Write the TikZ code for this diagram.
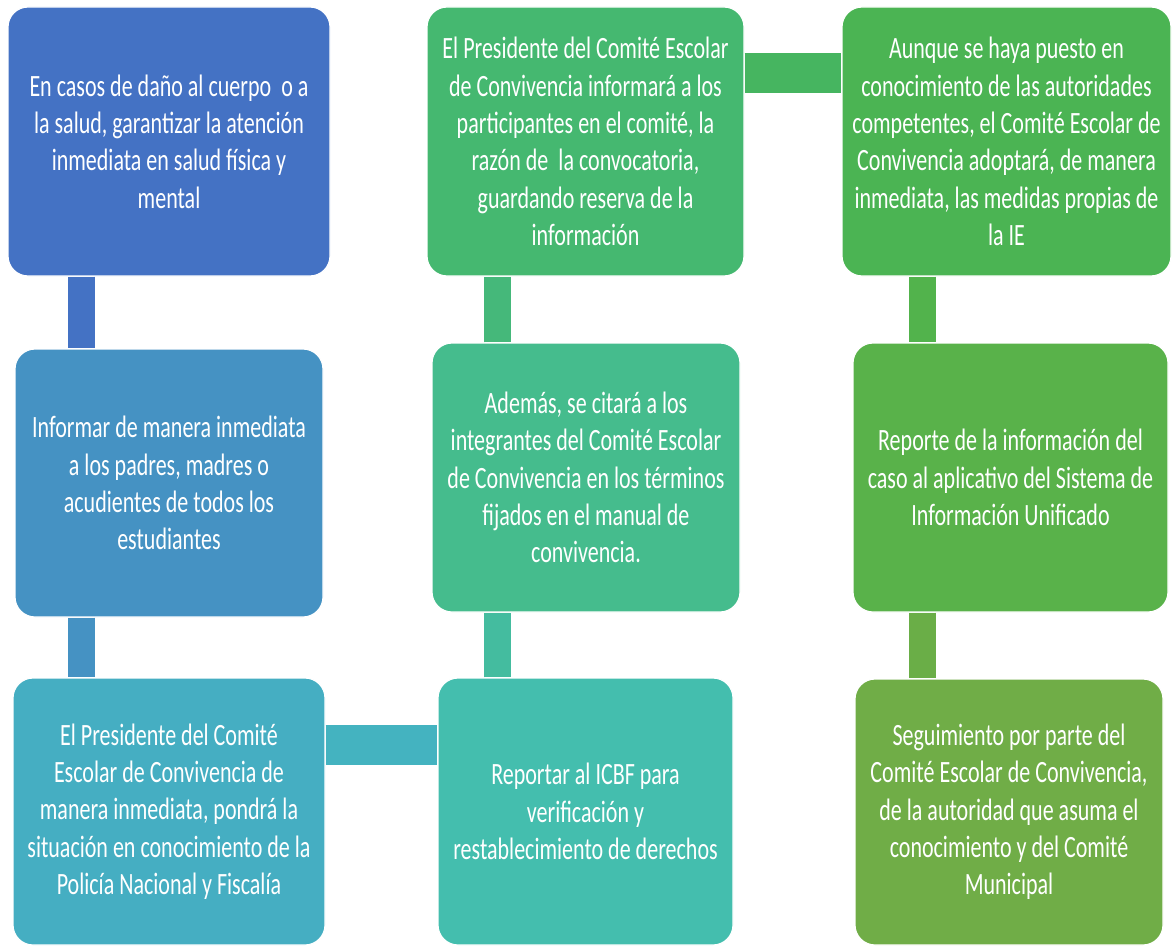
\documentclass[tikz,border=0pt]{standalone}
\usepackage{fontspec}
\setmainfont{Carlito}[FakeStretch=0.71]
\usepackage{tikz}
\usetikzlibrary{positioning}
\definecolor{cajaAa}{HTML}{4472C4}
\definecolor{cajaAb}{HTML}{4592C3}
\definecolor{cajaAc}{HTML}{45AEC2}
\definecolor{cajaBa}{HTML}{45B870}
\definecolor{cajaBb}{HTML}{45BC8D}
\definecolor{cajaBc}{HTML}{44BEAE}
\definecolor{cajaCa}{HTML}{4BB453}
\definecolor{cajaCb}{HTML}{59B24A}
\definecolor{cajaCc}{HTML}{70AD47}
\definecolor{lazoAc}{HTML}{44B3C0}
\definecolor{lazoBc}{HTML}{44BC9F}
\definecolor{lazoBb}{HTML}{45B87A}
\definecolor{lazoBa}{HTML}{46B560}
\definecolor{lazoCa}{HTML}{52B34C}
\definecolor{lazoCb}{HTML}{6AAE47}
\tikzset{
  caja/.style={rectangle, rounded corners=10pt, draw=white, line width=0.6pt,
               text=white, align=center, inner sep=0pt,
               font=\fontsize{15.5}{18.65}\selectfont},
  enlace/.style={draw, line width=13.5pt},
  enlaceh/.style={draw, line width=20pt}
}
\begin{document}
\begin{tikzpicture}[x=0.5pt,y=-0.5pt]
    \useasboundingbox (0,0) rectangle (1172,947);
    % Primera columna
    \node (A1) at (169,141.5) [caja, fill=cajaAa, minimum width=161pt, minimum height=134.5pt]
      {En casos de daño al cuerpo\, o a\\la salud, garantizar la atención\\inmediata en salud física y\\mental};
    \node (A2) at (169,483) [caja, fill=cajaAb, minimum width=154pt, minimum height=134pt]
      {Informar de manera inmediata\\a los padres, madres o\\acudientes de todos los\\estudiantes};
    \node (A3) at (169,811.5) [caja, fill=cajaAc, minimum width=156pt, minimum height=133.5pt]
      {El Presidente del Comité\\Escolar de Convivencia de\\manera inmediata, pondrá la\\situación en conocimiento de la\\Policía Nacional y Fiscalía};
    % Segunda columna
    \node (B1) at (585.5,141.5) [caja, fill=cajaBa, minimum width=158.5pt, minimum height=134.5pt]
      {El Presidente del Comité Escolar\\de Convivencia informará a los\\participantes en el comité, la\\razón de\, la convocatoria,\\guardando reserva de la\\información};
    \node (B2) at (586,477.5) [caja, fill=cajaBb, minimum width=154pt, minimum height=134.5pt]
      {Además, se citará a los\\integrantes del Comité Escolar\\de Convivencia en los términos\\fijados en el manual de\\convivencia.};
    \node (B3) at (585.5,811.5) [caja, fill=cajaBc, minimum width=147.5pt, minimum height=133.5pt]
      {Reportar al ICBF para\\verificación y\\restablecimiento de derechos};
    % Tercera columna
    \node (C1) at (1006.5,141.5) [caja, fill=cajaCa, minimum width=164.5pt, minimum height=134.5pt]
      {Aunque se haya puesto en\\conocimiento de las autoridades\\competentes, el Comité Escolar de\\Convivencia adoptará, de manera\\inmediata, las medidas propias de\\la IE};
    \node (C2) at (1010.5,477.5) [caja, fill=cajaCb, minimum width=157.5pt, minimum height=134.5pt]
      {Reporte de la información del\\caso al aplicativo del Sistema de\\Información Unificado};
    \node (C3) at (1009,812) [caja, fill=cajaCc, minimum width=154pt, minimum height=133pt]
      {Seguimiento por parte del\\Comité Escolar de Convivencia,\\de la autoridad que asuma el\\conocimiento y del Comité\\Municipal};
    % Enlaces
    \coordinate (xa) at (81.5,0);
    \coordinate (xb) at (497.5,0);
    \coordinate (xc) at (922,0);
    \coordinate (yinf) at (0,745);
    \coordinate (ysup) at (0,73);
    \draw [enlace, cajaAa] (A1.south -| xa) -- (A2.north -| xa);
    \draw [enlace, cajaAb] (A2.south -| xa) -- (A3.north -| xa);
    \draw [enlaceh, lazoAc] (A3.east |- yinf) -- (B3.west |- yinf);
    \draw [enlace, lazoBc] (B3.north -| xb) -- (B2.south -| xb);
    \draw [enlace, lazoBb] (B2.north -| xb) -- (B1.south -| xb);
    \draw [enlaceh, lazoBa] (B1.east |- ysup) -- (C1.west |- ysup);
    \draw [enlace, lazoCa] (C1.south -| xc) -- (C2.north -| xc);
    \draw [enlace, lazoCb] (C2.south -| xc) -- (C3.north -| xc);
\end{tikzpicture}
\end{document}
